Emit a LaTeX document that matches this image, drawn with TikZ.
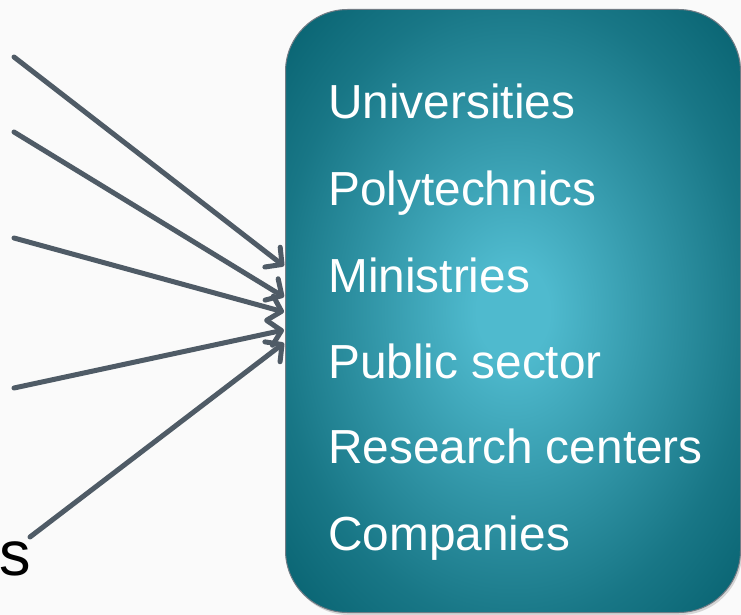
\documentclass[tikz,border=0pt]{standalone}
\usepackage{fontspec}
\setmainfont{Liberation Sans}
\usetikzlibrary{arrows.meta,shadows}
\definecolor{arrowgray}{HTML}{4F5B66}
\definecolor{tealdark}{HTML}{06606E}
\definecolor{teallight}{HTML}{4FBACE}
\definecolor{bggray}{HTML}{FAFAFA}
\pgfdeclareradialshading{tealglow}{\pgfpoint{0bp}{0bp}}{%
  color(0bp)=(teallight);
  color(4bp)=(teallight);
  color(15bp)=(teallight!62!tealdark);
  color(26bp)=(teallight!25!tealdark);
  color(36bp)=(tealdark);
  color(100bp)=(tealdark)}
\begin{document}
\begin{tikzpicture}[x=1pt,y=-1pt,
  boxstyle/.style={draw=arrowgray!80,line width=1pt,rounded corners=62pt,
    minimum width=455pt,minimum height=603pt,inner sep=0pt,
    shading=tealglow,
    drop shadow={opacity=0.3,shadow xshift=1.5pt,shadow yshift=-2.5pt}},
  itemtext/.style={anchor=base west,inner sep=0pt,text=white,
    font=\fontsize{47.8}{50}\selectfont},
  feed/.style={draw=arrowgray,line width=5pt,line cap=round,
    -{Straight Barb[length=12pt,width=25pt,line cap=round,line join=round]}}
]
\useasboundingbox (0,0) rectangle (741,615);
\fill[bggray] (0,0) rectangle (741,615);
\node[boxstyle] (box) at (513,311) {};
\node[itemtext] (u) at (328,118) {Universities};
\node[itemtext] (p) at (328,205) {Polytechnics};
\node[itemtext] (m) at (328,292) {Ministries};
\node[itemtext] (ps) at (328,378) {Public sector};
\node[itemtext] (r) at (328,463) {Research centers};
\node[itemtext] (c) at (328,550) {Companies};
\node[anchor=base east,inner sep=0pt,font=\fontsize{63}{65}\selectfont] (s) at (31,575) {s};
\coordinate (a1) at (14,57);
\coordinate (a2) at (14,132);
\coordinate (a3) at (14,238);
\coordinate (a4) at (14,388);
\coordinate (a5) at (30,537);
\coordinate (t1) at (284,266);
\coordinate (t2) at (284,297);
\coordinate (t3) at (284,312);
\coordinate (t4) at (284,330);
\coordinate (t5) at (284,343);
\draw[feed] (a1) -- (t1);
\draw[feed] (a2) -- (t2);
\draw[feed] (a3) -- (t3);
\draw[feed] (a4) -- (t4);
\draw[feed] (a5) -- (t5);
\end{tikzpicture}
\end{document}
